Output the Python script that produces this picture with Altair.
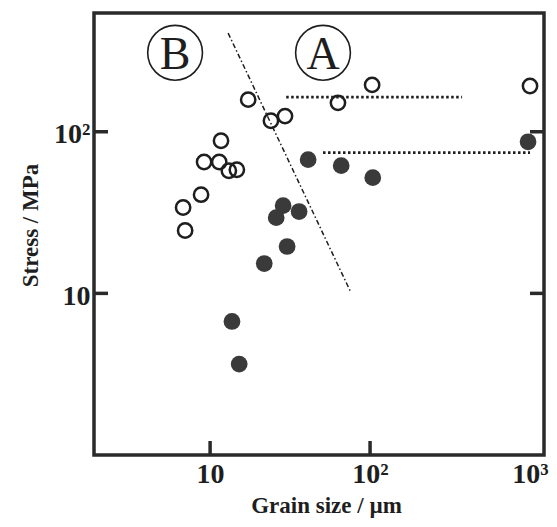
import altair as alt
import pandas as pd

# open circles (grain size um, stress MPa)
open_x = [17.3, 24.0, 29.4, 11.7, 9.17, 11.4, 13.1, 14.7, 8.78, 6.78, 6.98, 103, 63, 1000]
open_y = [158, 117, 125, 88, 65, 65, 57.4, 58.2, 40.8, 34, 24.5, 195, 151, 192]
# filled circles
filled_x = [41, 66, 104, 972, 28.6, 25.9, 36, 30.3, 21.8, 13.7, 15.2]
filled_y = [67.2, 61.7, 52, 86.7, 34.9, 29.4, 32.1, 19.5, 15.3, 6.7, 3.65]
# boundary (dash-dot) line
bound_x = [12.96, 76]
bound_y = [408, 10.1]
# horizontal dotted lines
upper_x = [29.9, 376]
upper_y = [164, 164]
lower_x = [50.8, 1000]
lower_y = [74.2, 74.2]
# region labels
region_labels = ["B", "A"]
region_x = [6.04, 50.8]
region_y = [308, 308]
# tick values
x_ticks = [10, 100, 1000]
y_ticks = [10, 100]
x_inner_ticks = [10, 100]

W, H = 450, 442
FONT = "Liberation Serif"
INK = "#1e1e1e"

xs = alt.Scale(type="log", domain=[1.88, 1223], nice=False)
ys = alt.Scale(type="log", domain=[1.0, 543], nice=False)

x_axis = alt.Axis(
    values=x_ticks,
    labelExpr="datum.value == 100 ? '10²' : (datum.value == 1000 ? '10³' : '10')",
    title="Grain size / µm",
    titleX=232, titleY=50, titleBaseline="middle",
    labelPadding=5,
)
y_axis = alt.Axis(
    values=y_ticks,
    labelExpr="datum.value == 100 ? '10²' : '10'",
    title="Stress / MPa",
    titleX=-64, titleY=212, titleBaseline="middle",
    labelPadding=4, labelOffset=3,
)


def X(field):
    return alt.X(field, type="quantitative", scale=xs, axis=x_axis)


def Y(field):
    return alt.Y(field, type="quantitative", scale=ys, axis=y_axis)


open_df = pd.DataFrame({"x": open_x, "y": open_y})
filled_df = pd.DataFrame({"x": filled_x, "y": filled_y})
bound_df = pd.DataFrame({"x": [bound_x[0]], "y": [bound_y[0]], "x2": [bound_x[1]], "y2": [bound_y[1]]})
dot_df = pd.DataFrame({"x": [upper_x[0], lower_x[0]], "x2": [upper_x[1], lower_x[1]],
                       "y": [upper_y[0], lower_y[0]]})
reg_df = pd.DataFrame({"t": region_labels, "x": region_x, "y": region_y})
yt_df = pd.DataFrame({"v": y_ticks})
xt_df = pd.DataFrame({"v": x_inner_ticks})

filled = alt.Chart(filled_df).mark_circle(size=280, color="#3a3a3a", opacity=1).encode(
    x=X("x"), y=Y("y")
)
opened = alt.Chart(open_df).mark_point(shape="circle", filled=False, size=205, strokeWidth=2.5,
                                       color=INK, opacity=1).encode(x=X("x"), y=Y("y"))
bound = alt.Chart(bound_df).mark_rule(strokeWidth=1.5, strokeDash=[5, 2.5, 1.5, 2.5], color=INK).encode(
    x=X("x"), y=Y("y"), x2="x2", y2="y2"
)
dots = alt.Chart(dot_df).mark_rule(strokeWidth=2.8, strokeDash=[2.5, 2.5], color=INK).encode(
    x=X("x"), x2="x2", y=Y("y")
)
rings = alt.Chart(reg_df).mark_point(shape="circle", filled=False, size=3000, strokeWidth=1.6,
                                     color=INK, opacity=1).encode(x=X("x"), y=Y("y"))
letters = alt.Chart(reg_df).mark_text(font=FONT, fontSize=46, color=INK, baseline="middle",
                                      align="center", dy=2).encode(x=X("x"), y=Y("y"), text="t")
lt = alt.Chart(yt_df).mark_rule(strokeWidth=3.5, color="#2a2a2a").encode(
    y=Y("v"), x=alt.value(0), x2=alt.value(14))
rt = alt.Chart(yt_df).mark_rule(strokeWidth=3.5, color="#2a2a2a").encode(
    y=Y("v"), x=alt.value(W - 14), x2=alt.value(W))
bt = alt.Chart(xt_df).mark_rule(strokeWidth=3.5, color="#2a2a2a").encode(
    x=X("v"), y=alt.value(H - 14), y2=alt.value(H))

chart = alt.layer(filled, opened, bound, dots, rings, letters, lt, rt, bt).properties(
    width=W, height=H,
    autosize=alt.AutoSizeParams(type="none"),
    padding={"left": 86, "top": 5, "right": 5, "bottom": 64},
    background="white",
).configure_view(
    stroke="#2a2a2a", strokeWidth=3.5
).configure_axis(
    domain=False, ticks=False, grid=False,
    labelFont=FONT, labelFontWeight="bold", labelFontSize=28, labelColor=INK,
    titleFont=FONT, titleFontWeight="bold", titleFontSize=23, titleColor=INK,
)

chart.save("out.html", embed_options={"renderer": "svg", "actions": False})
